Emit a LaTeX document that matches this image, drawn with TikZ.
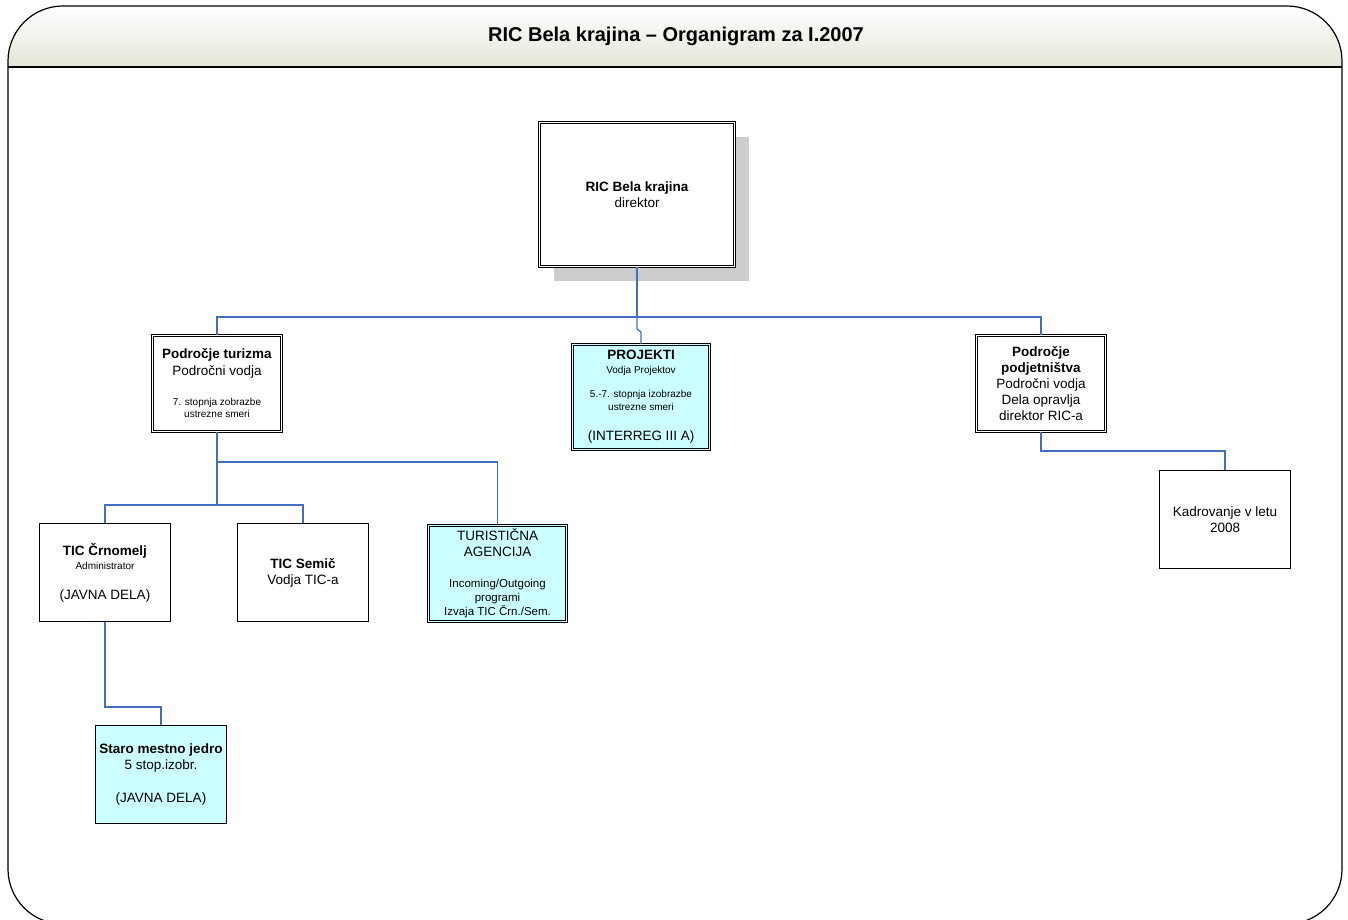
\documentclass[tikz,border=0pt]{standalone}
\usepackage{fontspec}
\setmainfont{Liberation Sans}
\usetikzlibrary{shadows}
\definecolor{linkblue}{RGB}{66,110,196}
\definecolor{cyanfill}{RGB}{204,255,255}
\definecolor{titlegray}{RGB}{226,230,216}
\newcommand\bigtxt{\fontsize{13.5}{16}\selectfont}
\newcommand\midtxt{\fontsize{11.5}{14}\selectfont}
\newcommand\smalltxt{\fontsize{10}{12}\selectfont}
\begin{document}
\begin{tikzpicture}[x=1pt, y=-1pt,
	unit/.style={rectangle, draw, line width=0.8pt, minimum width=131pt, minimum height=98pt, align=center, inner sep=0pt, font=\bigtxt},
	dunit/.style={unit, fill=white, double, double distance=1.6pt, line width=0.7pt, minimum width=129pt, minimum height=96pt},
	link/.style={draw=linkblue, line width=1.3pt},
	frame/.style={draw=black, line width=1.2pt}]
		\useasboundingbox (0,0) rectangle (1348,919);
		\begin{scope}
			\clip[rounded corners=55pt] (8,6) rectangle (1342,924);
			\shade[top color=white, bottom color=titlegray] (8,6) rectangle (1342,67);
		\end{scope}
		\draw[frame] (8,67) -- (1342,67);
		\draw[frame, rounded corners=55pt] (8,6) rectangle (1342,924);
		\node[font=\fontsize{20}{24}\selectfont\bfseries] (title) at (676,36) {RIC Bela krajina \textendash\ Organigram za I.2007};
		
		\node[dunit, minimum width=195pt, minimum height=144pt, drop shadow={shadow xshift=14pt, shadow yshift=-14pt, fill=black!20, opacity=1}] (dir) at (637,194.5) {\textbf{RIC Bela krajina}\\direktor};
		\node[dunit] (tur) at (217,383.5) {\textbf{Področje turizma}\\Področni vodja\\[15pt]\smalltxt 7. stopnja zobrazbe\\[-4pt]\smalltxt ustrezne smeri};
		\node[dunit, fill=cyanfill, double=cyanfill, minimum width=137pt, minimum height=105pt] (proj) at (641,397) {\textbf{PROJEKTI}\\[-2pt]\smalltxt Vodja Projektov\\[8pt]\smalltxt 5.-7. stopnja izobrazbe\\[-3pt]\smalltxt ustrezne smeri\\[14pt](INTERREG III A)};
		\node[dunit] (podj) at (1041,383.5) {\textbf{Področje}\\\textbf{podjetništva}\\Področni vodja\\Dela opravlja\\direktor RIC-a};
		\node[unit] (crn) at (105,572.5) {\textbf{TIC Črnomelj}\\[-2pt]\smalltxt Administrator\\[14pt](JAVNA DELA)};
		\node[unit] (sem) at (303,572.5) {\textbf{TIC Semič}\\Vodja TIC-a};
		\node[dunit, fill=cyanfill, double=cyanfill, minimum width=138pt] (ag) at (497.5,573.5) {TURISTIČNA\\AGENCIJA\\[15pt]\midtxt Incoming/Outgoing\\[-2pt]\midtxt programi\\[-2pt]\midtxt Izvaja TIC Črn./Sem.};
		\node[unit, fill=cyanfill] (staro) at (161,774.5) {\textbf{Staro mestno jedro}\\5 stop.izobr.\\[17pt](JAVNA DELA)};
		\node[unit] (kadr) at (1225,519.5) {Kadrovanje v letu\\2008};
		
		\coordinate (topbus) at (637,317);
		\coordinate (turbus) at (217,505);
		\coordinate (agbus) at (217,462);
		\draw[link] (dir) -- (topbus);
		\draw[link] (tur.north) |- (topbus) -| (podj.north);
		\draw[link] (topbus) -- ++(0,12) -- ++(4,3) -- (proj.north);
		\draw[link] (tur.south) -- (turbus);
		\draw[link] (crn.north) |- (turbus) -| (sem.north);
		\draw[link] (agbus) -| (ag.north);
		\draw[link] (crn.south) -- ++(0,85) -| (staro.north);
		\draw[link] (podj.south) -- ++(0,19) -| (kadr.north);
	\end{tikzpicture}
\end{document}
